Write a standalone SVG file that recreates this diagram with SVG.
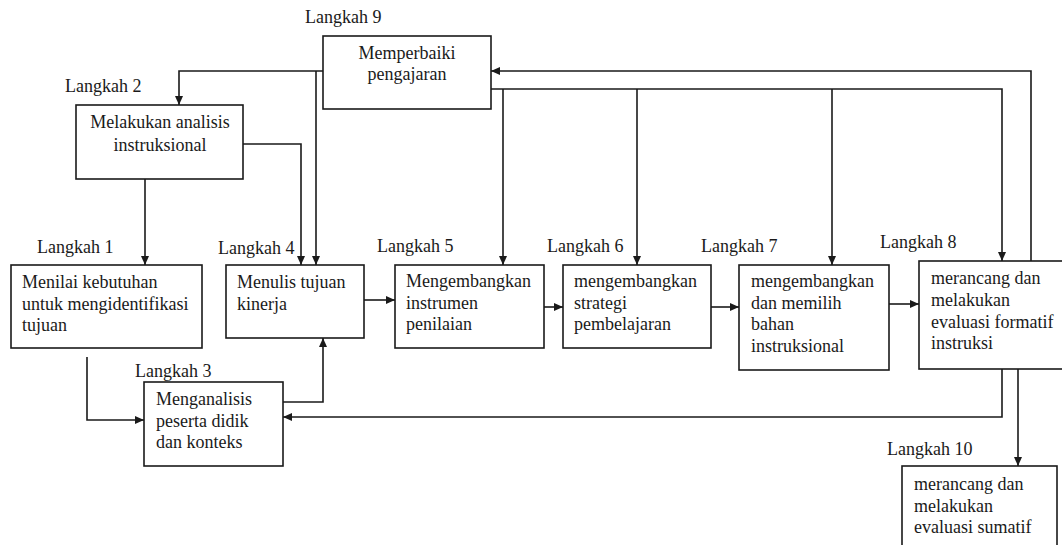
<svg xmlns="http://www.w3.org/2000/svg" width="1062" height="545" viewBox="0 0 1062 545">
<style>
.box{fill:#fff;stroke:#1a1a1a;stroke-width:1.6}
.t{font-family:'Liberation Serif',Tinos,'Times New Roman',Times,'DejaVu Serif',serif;font-size:18px;fill:#1a1a1a}
.c{text-anchor:middle}
.ln{fill:none;stroke:#1a1a1a;stroke-width:1.6}
</style>
<defs>
<marker id="ar" markerUnits="userSpaceOnUse" markerWidth="10" markerHeight="10" viewBox="0 0 10 10" refX="9" refY="5" orient="auto">
<path d="M0,1 L9,5 L0,9 Z" fill="#1a1a1a"/>
</marker>
</defs>
<rect width="1062" height="545" fill="#fff"/>
<g id="connectors">
<path class="ln" d="M323,71 H179 V105" marker-end="url(#ar)"/>
<path class="ln" d="M316,71 V265" marker-end="url(#ar)"/>
<path class="ln" d="M243,144 H301 V265" marker-end="url(#ar)"/>
<path class="ln" d="M145,179 V265" marker-end="url(#ar)"/>
<path class="ln" d="M87,357 V420 H144" marker-end="url(#ar)"/>
<path class="ln" d="M283,402 H323 V338" marker-end="url(#ar)"/>
<path class="ln" d="M364,300 H395" marker-end="url(#ar)"/>
<path class="ln" d="M544,307 H563" marker-end="url(#ar)"/>
<path class="ln" d="M711,307 H739" marker-end="url(#ar)"/>
<path class="ln" d="M889,304 H919" marker-end="url(#ar)"/>
<path class="ln" d="M1031,261 V71 H491" marker-end="url(#ar)"/>
<path class="ln" d="M491,89 H1002 V261" marker-end="url(#ar)"/>
<path class="ln" d="M503,89 V265" marker-end="url(#ar)"/>
<path class="ln" d="M637,89 V265" marker-end="url(#ar)"/>
<path class="ln" d="M832,89 V265" marker-end="url(#ar)"/>
<path class="ln" d="M1002,369 V417 H283" marker-end="url(#ar)"/>
<path class="ln" d="M1018,369 V466" marker-end="url(#ar)"/>
</g>
<g id="step9">
<text class="t" x="305" y="23">Langkah 9</text>
<rect class="box" x="323" y="36" width="168" height="73"/>
<text class="t c" x="407" y="59">Memperbaiki</text>
<text class="t c" x="407" y="80">pengajaran</text>
</g>
<g id="step2">
<text class="t" x="65" y="92">Langkah 2</text>
<rect class="box" x="76" y="105" width="167" height="74"/>
<text class="t c" x="160" y="128">Melakukan analisis</text>
<text class="t c" x="160" y="151">instruksional</text>
</g>
<g id="step1">
<text class="t" x="37" y="253">Langkah 1</text>
<rect class="box" x="11" y="265" width="191" height="83"/>
<text class="t" x="22" y="288">Menilai kebutuhan</text>
<text class="t" x="22" y="310">untuk mengidentifikasi</text>
<text class="t" x="22" y="331">tujuan</text>
</g>
<g id="step4">
<text class="t" x="218" y="254">Langkah 4</text>
<rect class="box" x="226" y="265" width="138" height="73"/>
<text class="t" x="237" y="288">Menulis tujuan</text>
<text class="t" x="237" y="310">kinerja</text>
</g>
<g id="step5">
<text class="t" x="377" y="252">Langkah 5</text>
<rect class="box" x="395" y="265" width="149" height="83"/>
<text class="t" x="406" y="287">Mengembangkan</text>
<text class="t" x="406" y="309">instrumen</text>
<text class="t" x="406" y="330">penilaian</text>
</g>
<g id="step6">
<text class="t" x="547" y="252">Langkah 6</text>
<rect class="box" x="563" y="265" width="148" height="83"/>
<text class="t" x="574" y="287">mengembangkan</text>
<text class="t" x="574" y="309">strategi</text>
<text class="t" x="574" y="330">pembelajaran</text>
</g>
<g id="step7">
<text class="t" x="701" y="252">Langkah 7</text>
<rect class="box" x="739" y="265" width="150" height="105"/>
<text class="t" x="751" y="287">mengembangkan</text>
<text class="t" x="751" y="309">dan memilih</text>
<text class="t" x="751" y="330">bahan</text>
<text class="t" x="751" y="352">instruksional</text>
</g>
<g id="step8">
<text class="t" x="880" y="248">Langkah 8</text>
<rect class="box" x="919" y="261" width="150" height="108"/>
<text class="t" x="931" y="284">merancang dan</text>
<text class="t" x="931" y="306">melakukan</text>
<text class="t" x="931" y="328">evaluasi formatif</text>
<text class="t" x="931" y="349">instruksi</text>
</g>
<g id="step3">
<text class="t" x="135" y="377">Langkah 3</text>
<rect class="box" x="144" y="382" width="139" height="84"/>
<text class="t" x="156" y="405">Menganalisis</text>
<text class="t" x="156" y="427">peserta didik</text>
<text class="t" x="156" y="448">dan konteks</text>
</g>
<g id="step10">
<text class="t" x="887" y="455">Langkah 10</text>
<rect class="box" x="902" y="466" width="155" height="90"/>
<text class="t" x="914" y="490">merancang dan</text>
<text class="t" x="914" y="512">melakukan</text>
<text class="t" x="914" y="533">evaluasi sumatif</text>
</g>
</svg>
